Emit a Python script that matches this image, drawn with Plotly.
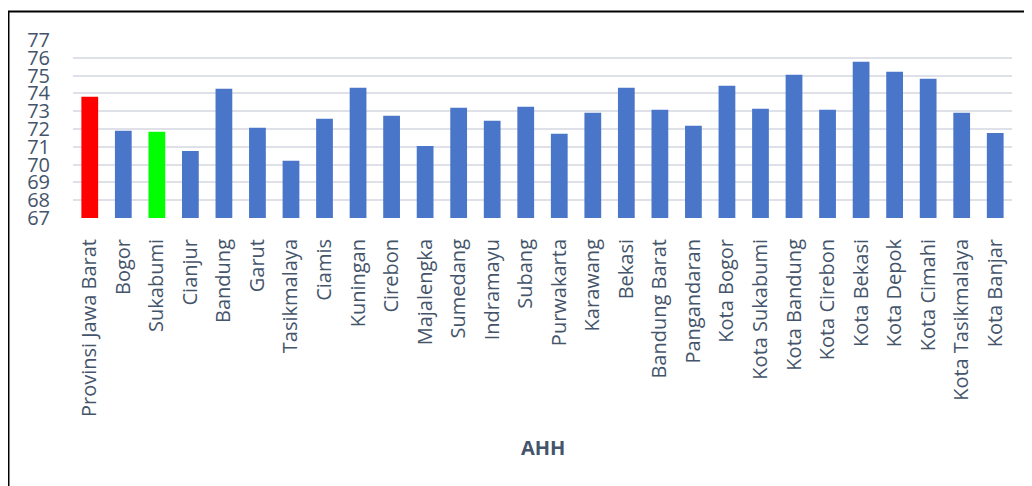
import plotly.graph_objects as go

categories = ["Provinsi Jawa Barat", "Bogor", "Sukabumi", "Cianjur", "Bandung", "Garut",
              "Tasikmalaya", "Ciamis", "Kuningan", "Cirebon", "Majalengka", "Sumedang",
              "Indramayu", "Subang", "Purwakarta", "Karawang", "Bekasi", "Bandung Barat",
              "Pangandaran", "Kota Bogor", "Kota Sukabumi", "Kota Bandung", "Kota Cirebon",
              "Kota Bekasi", "Kota Depok", "Kota Cimahi", "Kota Tasikmalaya", "Kota Banjar"]
ahh = [73.81, 71.90, 71.84, 70.77, 74.26, 72.07, 70.21, 72.57, 74.32, 72.74, 71.05, 73.19,
       72.46, 73.25, 71.73, 72.91, 74.32, 73.08, 72.18, 74.43, 73.14, 75.05, 73.08,
       75.78, 75.22, 74.82, 72.91, 71.78]
y_ticks = [67, 68, 69, 70, 71, 72, 73, 74, 75, 76, 77]

colors = []
for c in categories:
    if c == "Provinsi Jawa Barat":
        colors.append("#FF0000")
    elif c == "Sukabumi":
        colors.append("#00FF00")
    else:
        colors.append("#4A76C9")

TXT = "#44546A"
fig = go.Figure(go.Bar(x=categories, y=ahh, marker=dict(color=colors, line=dict(width=0)),
                       width=0.5))

fig.update_layout(
    width=1032, height=486,
    margin=dict(l=65, r=28, t=32, b=276),
    paper_bgcolor="white", plot_bgcolor="white",
    font=dict(family="Open Sans", color=TXT),
    showlegend=False,
)
fig.update_xaxes(tickangle=-90, tickfont=dict(size=20, color=TXT), showgrid=False,
                 showline=False, ticks="", ticklabelstandoff=16, automargin=False)
fig.update_yaxes(range=[67, 77], tickvals=y_ticks, tickfont=dict(size=20, color=TXT),
                 showgrid=True, gridcolor="#DEE2E8", gridwidth=2, zeroline=False,
                 showline=False, ticks="", ticklabelstandoff=22, automargin=False)

fig.add_annotation(text="<b>AHH</b>", x=0.5, y=-1.287, xref="paper", yref="paper",
                   showarrow=False, font=dict(size=20, color=TXT), xanchor="center", yanchor="middle")

fig.add_shape(type="rect", xref="paper", yref="paper", x0=-0.0687, y0=-1.6, x1=1.05, y1=1.160,
              line=dict(color="black", width=2), fillcolor="rgba(0,0,0,0)", layer="above")

fig.write_html("out.html")
